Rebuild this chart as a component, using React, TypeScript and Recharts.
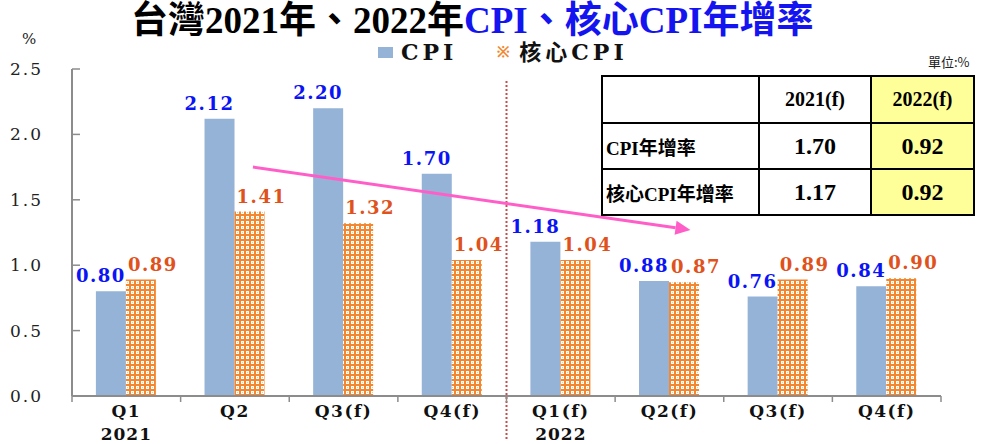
import { BarChart, Bar, XAxis, YAxis, LabelList, ReferenceLine } from "recharts";

// 資料
const categories = ["2021Q1", "2021Q2", "2021Q3", "2021Q4", "2022Q1", "2022Q2", "2022Q3", "2022Q4"];
const quarterLabels = ["Q1", "Q2", "Q3(f)", "Q4(f)", "Q1(f)", "Q2(f)", "Q3(f)", "Q4(f)"];
const yearLabels = ["2021", "", "", "", "2022", "", "", ""];
const cpiValues = [0.8, 2.12, 2.2, 1.7, 1.18, 0.88, 0.76, 0.84];
const coreValues = [0.89, 1.41, 1.32, 1.04, 1.04, 0.87, 0.89, 0.9];
const yTicks = [0, 0.5, 1.0, 1.5, 2.0, 2.5];

const tableYears = ["2021(f)", "2022(f)"];
const tableRows = ["CPI年增率", "核心CPI年增率"];
const tableValues = [
  ["1.70", "0.92"],
  ["1.17", "0.92"],
];

const data = categories.map((c, i) => ({
  key: c,
  cpi: cpiValues[i],
  core: coreValues[i],
}));

const W = 982;
const H = 444;
const M = { top: 69, right: 41, left: 0, bottom: 0 };
const Y_W = 72;
const BAND = (W - Y_W - M.right) / categories.length;

const BLUE_BAR = "#95b3d7";
const ORANGE = "#f3872f";
const SERIF = "'DejaVu Serif', 'Liberation Serif', serif";
const TITLE_FONT = "'Liberation Serif', 'Noto Sans CJK TC', serif";

const YTick = ({ x, y, payload }: any) => (
  <g>
    <line x1={x} x2={x + 8} y1={y} y2={y} stroke="#8c8c8c" strokeWidth={1.5} />
    <text x={x - 29} y={y + 6} textAnchor="end" fontFamily={SERIF} fontSize={17} letterSpacing={2} fill="#222">
      {Number(payload.value).toFixed(1)}
    </text>
  </g>
);

const XTick = ({ x, y, payload, index }: any) => (
  <g>
    <line x1={x - BAND / 2} x2={x - BAND / 2} y1={y} y2={y + 6} stroke="#8c8c8c" strokeWidth={1.5} />
    {index === categories.length - 1 && (
      <line x1={x + BAND / 2} x2={x + BAND / 2} y1={y} y2={y + 6} stroke="#8c8c8c" strokeWidth={1.5} />
    )}
    <text x={x} y={y + 21} textAnchor="middle" fontFamily={SERIF} fontWeight="bold" fontSize={17} letterSpacing={1.5} fill="#111">
      {quarterLabels[index]}
    </text>
    {yearLabels[index] && (
      <text x={x} y={y + 44} textAnchor="middle" fontFamily={SERIF} fontWeight="bold" fontSize={17} letterSpacing={1} fill="#111">
        {yearLabels[index]}
      </text>
    )}
  </g>
);

const makeLabel = (color: string, dx: number) => (props: any) => {
  const { x, y, width, value } = props;
  return (
    <text
      x={x + width / 2 + dx}
      y={y - 9}
      textAnchor="middle"
      fontFamily={SERIF}
      fontWeight="bold"
      fontSize={18}
      letterSpacing={1.5}
      fill={color}
    >
      {Number(value).toFixed(2)}
    </text>
  );
};

// 2021 / 2022 分隔虛線
const Divider = (props: any) => {
  const x = props.x1 + BAND / 2;
  const top = Math.min(props.y1, props.y2);
  const bottom = Math.max(props.y1, props.y2);
  return (
    <line x1={x} x2={x} y1={top + 12} y2={bottom + 44} stroke="#c0504d" strokeWidth={2} strokeDasharray="2 2" />
  );
};

// 趨勢箭頭
const Arrow = (props: any) => {
  const x1 = props.x1 + 18;
  const y1 = props.y1;
  const x2 = props.x2 + 21;
  const y2 = props.y2;
  const ang = Math.atan2(y2 - y1, x2 - x1);
  const len = 15;
  const half = 7;
  const bx = x2 - len * Math.cos(ang);
  const by = y2 - len * Math.sin(ang);
  const px = -Math.sin(ang) * half;
  const py = Math.cos(ang) * half;
  return (
    <g>
      <line x1={x1} y1={y1} x2={bx} y2={by} stroke="#ff5ec8" strokeWidth={3} />
      <polygon points={`${x2},${y2} ${bx + px},${by + py} ${bx - px},${by - py}`} fill="#ff5ec8" />
    </g>
  );
};

export default function App() {
  return (
    <div style={{ position: "absolute", left: 0, top: 0, width: W, height: H, background: "#fff" }}>
      <svg width={0} height={0} style={{ position: "absolute" }}>
        <defs>
          <pattern id="coreHatch" width={5} height={5} patternUnits="userSpaceOnUse">
            <rect width={5} height={5} fill={ORANGE} />
            <rect x={1} y={1} width={3} height={3} fill="#fff" />
            <rect x={2} y={2} width={1} height={1} fill="#f9c49a" />
          </pattern>
        </defs>
      </svg>

      <BarChart width={W} height={H} data={data} margin={M} barCategoryGap="22%" barGap={0}>
        <XAxis
          dataKey="key"
          interval={0}
          height={48}
          tickSize={0}
          tickMargin={0}
          tickLine={false}
          axisLine={{ stroke: "#8c8c8c", strokeWidth: 2 }}
          tick={<XTick />}
        />
        <YAxis
          width={Y_W}
          domain={[0, 2.5]}
          ticks={yTicks}
          tickSize={0}
          tickMargin={0}
          tickLine={false}
          axisLine={{ stroke: "#8c8c8c", strokeWidth: 2 }}
          tick={<YTick />}
        />
        <Bar dataKey="cpi" fill={BLUE_BAR} isAnimationActive={false}>
          <LabelList dataKey="cpi" content={makeLabel("#0a14f5", -10)} />
        </Bar>
        <Bar dataKey="core" fill="url(#coreHatch)" isAnimationActive={false}>
          <LabelList dataKey="core" content={makeLabel("#e0521c", 12)} />
        </Bar>
        <ReferenceLine x="2021Q4" ifOverflow="visible" shape={Divider} />
        <ReferenceLine
          segment={[
            { x: "2021Q2", y: 1.75 },
            { x: "2022Q2", y: 1.27 },
          ]}
          ifOverflow="visible"
          shape={Arrow}
        />
      </BarChart>

      {/* 標題 */}
      <div
        style={{
          position: "absolute",
          left: 131,
          top: -1,
          fontFamily: TITLE_FONT,
          fontWeight: "bold",
          fontSize: 37,
          lineHeight: "44px",
          whiteSpace: "nowrap",
        }}
      >
        <span style={{ color: "#000" }}>台灣2021年、2022年</span>
        <span style={{ color: "#1414f0" }}>CPI、核心CPI年增率</span>
      </div>

      {/* % */}
      <div style={{ position: "absolute", left: 22, top: 30, fontFamily: SERIF, fontSize: 15, color: "#222" }}>%</div>

      {/* 圖例 */}
      <div
        style={{
          position: "absolute",
          left: 378,
          top: 39,
          display: "flex",
          alignItems: "center",
          fontFamily: SERIF,
          fontWeight: "bold",
          fontSize: 22,
          lineHeight: "26px",
          color: "#111",
          whiteSpace: "nowrap",
        }}
      >
        <span style={{ width: 15, height: 11, background: BLUE_BAR, display: "inline-block", marginRight: 8 }} />
        <span style={{ letterSpacing: 4 }}>CPI</span>
        <span style={{ color: ORANGE, fontSize: 15, marginLeft: 40, marginRight: 9 }}>※</span>
        <span style={{ letterSpacing: 4, fontFamily: "'DejaVu Serif', 'Noto Sans CJK TC', serif" }}>核心CPI</span>
      </div>

      {/* 單位 */}
      <div style={{ position: "absolute", left: 928, top: 52, fontFamily: "'Noto Sans CJK TC', serif", fontSize: 13, color: "#222" }}>
        單位:%
      </div>

      {/* 年增率表 */}
      <table
        style={{
          position: "absolute",
          left: 601,
          top: 75,
          width: 374,
          height: 138,
          borderCollapse: "collapse",
          fontFamily: TITLE_FONT,
          fontWeight: "bold",
          color: "#000",
          background: "#fff",
        }}
      >
        <tbody>
          <tr style={{ height: 47 }}>
            <td style={{ border: "2px solid #000", width: 156 }} />
            {tableYears.map((yr, j) => (
              <td
                key={yr}
                style={{
                  border: "2px solid #000",
                  textAlign: "center",
                  fontSize: 20,
                  width: j === 0 ? 114 : 104,
                  background: j === 1 ? "#ffff99" : "#fff",
                }}
              >
                {yr}
              </td>
            ))}
          </tr>
          {tableRows.map((r, i) => (
            <tr key={r} style={{ height: 46 }}>
              <td style={{ border: "2px solid #000", fontSize: 19, paddingLeft: 3, whiteSpace: "nowrap" }}>{r}</td>
              {tableValues[i].map((v, j) => (
                <td
                  key={j}
                  style={{
                    border: "2px solid #000",
                    textAlign: "center",
                    fontSize: 24,
                    background: j === 1 ? "#ffff99" : "#fff",
                  }}
                >
                  {v}
                </td>
              ))}
            </tr>
          ))}
        </tbody>
      </table>
    </div>
  );
}
